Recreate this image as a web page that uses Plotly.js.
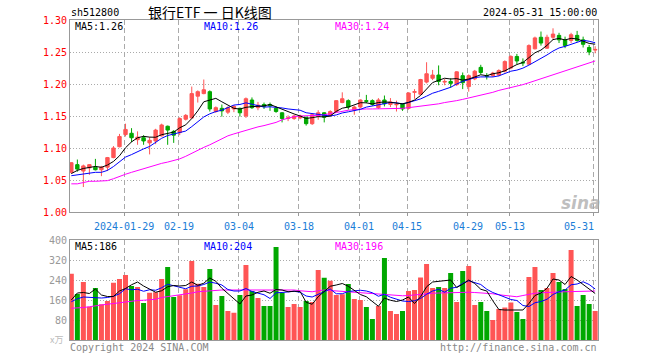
<!DOCTYPE html>
<html><head><meta charset="utf-8">
<script src="https://cdn.plot.ly/plotly-3.0.1.min.js"></script>
<style>html,body{margin:0;padding:0;background:#fff;}#chart{width:660px;height:360px;}</style>
</head><body><div id="chart"></div>
<script>
const dates = ['01-16','01-17','01-18','01-19','01-22','01-23','01-24','01-25','01-26','01-29','01-30','01-31','02-01','02-02','02-05','02-06','02-07','02-08','02-19','02-20','02-21','02-22','02-23','02-26','02-27','02-28','02-29','03-01','03-04','03-05','03-06','03-07','03-08','03-11','03-12','03-13','03-14','03-15','03-18','03-19','03-20','03-21','03-22','03-25','03-26','03-27','03-28','03-29','04-01','04-02','04-03','04-08','04-09','04-10','04-11','04-12','04-15','04-16','04-17','04-18','04-19','04-22','04-23','04-24','04-25','04-26','04-29','04-30','05-06','05-07','05-08','05-09','05-10','05-13','05-14','05-15','05-16','05-17','05-20','05-21','05-22','05-23','05-24','05-27','05-28','05-29','05-30','05-31'];
const open = [1.062,1.074,1.064,1.069,1.070,1.066,1.070,1.085,1.102,1.121,1.123,1.113,1.116,1.108,1.111,1.119,1.134,1.126,1.124,1.145,1.147,1.181,1.185,1.188,1.157,1.162,1.156,1.161,1.162,1.150,1.175,1.163,1.168,1.168,1.162,1.155,1.146,1.146,1.147,1.148,1.138,1.150,1.155,1.151,1.157,1.171,1.174,1.159,1.164,1.174,1.174,1.163,1.175,1.168,1.1675,1.169,1.162,1.187,1.184,1.203,1.209,1.214,1.203,1.204,1.199,1.213,1.196,1.208,1.226,1.213,1.213,1.214,1.220,1.225,1.243,1.234,1.231,1.255,1.273,1.256,1.273,1.276,1.269,1.268,1.276,1.269,1.257,1.253];
const high = [1.078,1.082,1.074,1.075,1.083,1.072,1.086,1.103,1.122,1.138,1.131,1.126,1.120,1.117,1.130,1.138,1.135,1.128,1.148,1.153,1.196,1.190,1.207,1.190,1.165,1.168,1.165,1.167,1.163,1.179,1.179,1.172,1.171,1.171,1.165,1.156,1.151,1.152,1.152,1.149,1.153,1.159,1.156,1.159,1.175,1.187,1.176,1.166,1.176,1.183,1.176,1.178,1.182,1.178,1.174,1.170,1.187,1.192,1.208,1.234,1.222,1.229,1.208,1.209,1.220,1.218,1.215,1.222,1.230,1.217,1.219,1.223,1.237,1.245,1.247,1.240,1.262,1.274,1.282,1.277,1.287,1.280,1.274,1.280,1.283,1.274,1.261,1.259];
const low = [1.060,1.063,1.039,1.058,1.065,1.056,1.064,1.084,1.101,1.118,1.109,1.105,1.105,1.090,1.106,1.118,1.105,1.108,1.120,1.143,1.146,1.171,1.184,1.157,1.155,1.149,1.153,1.156,1.149,1.147,1.161,1.159,1.161,1.158,1.155,1.140,1.142,1.144,1.145,1.135,1.136,1.144,1.140,1.149,1.155,1.170,1.160,1.152,1.162,1.170,1.166,1.161,1.165,1.164,1.157,1.158,1.160,1.177,1.183,1.201,1.206,1.198,1.198,1.194,1.197,1.192,1.188,1.206,1.215,1.207,1.211,1.212,1.218,1.223,1.231,1.228,1.230,1.254,1.260,1.255,1.269,1.264,1.256,1.264,1.266,1.257,1.245,1.248];
const close = [1.077,1.067,1.072,1.074,1.066,1.070,1.085,1.100,1.118,1.129,1.116,1.117,1.111,1.112,1.128,1.136,1.128,1.120,1.146,1.151,1.185,1.188,1.191,1.161,1.163,1.158,1.163,1.165,1.155,1.177,1.163,1.167,1.165,1.166,1.157,1.146,1.147,1.150,1.150,1.138,1.152,1.155,1.148,1.157,1.174,1.177,1.164,1.164,1.175,1.173,1.168,1.175,1.169,1.172,1.168,1.161,1.186,1.188,1.207,1.216,1.214,1.204,1.204,1.201,1.219,1.202,1.213,1.220,1.218,1.212,1.217,1.221,1.235,1.243,1.236,1.233,1.260,1.272,1.264,1.273,1.278,1.269,1.260,1.277,1.268,1.262,1.250,1.254];
const ma5 = [1.060,1.065,1.068,1.070,1.0712,1.0698,1.0734,1.079,1.0878,1.1004,1.1096,1.116,1.1182,1.117,1.1168,1.1208,1.123,1.1248,1.1316,1.1362,1.146,1.158,1.1722,1.1752,1.1776,1.1722,1.1672,1.162,1.1608,1.1636,1.1646,1.1652,1.1658,1.168,1.164,1.1606,1.1568,1.1532,1.15,1.1462,1.1474,1.149,1.1486,1.15,1.1572,1.1622,1.164,1.1672,1.1708,1.1706,1.1688,1.171,1.172,1.1714,1.1704,1.169,1.1712,1.175,1.182,1.1916,1.2022,1.2058,1.209,1.2078,1.2084,1.206,1.2078,1.211,1.2144,1.213,1.216,1.2176,1.2206,1.2256,1.2304,1.2336,1.2414,1.2488,1.253,1.2604,1.2694,1.2712,1.2688,1.2714,1.2704,1.2672,1.2634,1.2622];
const ma10 = [1.0567,1.058,1.059,1.0605,1.062,1.062,1.065,1.071,1.078,1.0858,1.0897,1.0947,1.0986,1.1024,1.1086,1.1152,1.1195,1.1215,1.1243,1.1265,1.1334,1.1405,1.1485,1.1534,1.1569,1.1591,1.1626,1.1671,1.168,1.1706,1.1684,1.1662,1.1639,1.1644,1.1638,1.1626,1.161,1.1595,1.159,1.1551,1.154,1.1529,1.1509,1.15,1.1517,1.1548,1.1565,1.1579,1.1604,1.1639,1.1655,1.1675,1.1696,1.1711,1.1705,1.1689,1.1711,1.1735,1.1767,1.181,1.1856,1.1885,1.192,1.1949,1.2,1.2041,1.2068,1.21,1.2111,1.2107,1.211,1.2127,1.2158,1.22,1.2217,1.2248,1.2295,1.2347,1.2393,1.2454,1.2515,1.2563,1.2588,1.2622,1.2654,1.2683,1.2668,1.2645];
const ma30 = [1.044,1.044,1.046,1.048,1.048,1.048,1.049,1.052,1.056,1.059,1.062,1.065,1.068,1.071,1.074,1.076,1.078,1.080,1.083,1.087,1.092,1.096,1.101,1.105,1.110,1.115,1.119,1.122,1.125,1.128,1.131,1.133,1.135,1.137,1.140,1.144,1.147,1.149,1.150,1.150,1.151,1.151,1.152,1.154,1.156,1.158,1.159,1.160,1.161,1.161,1.161,1.161,1.161,1.161,1.162,1.162,1.163,1.164,1.166,1.167,1.168,1.169,1.171,1.172,1.174,1.176,1.178,1.180,1.182,1.184,1.187,1.190,1.192,1.194,1.196,1.199,1.202,1.205,1.208,1.211,1.214,1.217,1.220,1.223,1.226,1.229,1.232,1.236];
const volume = [265,184,232,133,208,143,156,229,244,260,216,212,148,189,191,244,292,172,179,203,316,225,212,284,140,176,116,109,180,300,196,168,136,136,372,189,132,144,132,156,152,280,249,237,180,183,224,164,160,132,84,136,328,116,104,116,196,200,250,304,208,212,208,268,152,276,296,140,152,116,80,124,130,150,112,84,252,292,200,208,268,232,204,360,136,180,144,116];
const volMa5 = [160,188,190,186,204,180,174,174,196,206,221,232,216,205,191,197,213,218,216,218,232,219,227,248,235,207,186,165,144,176,180,191,196,187,202,200,193,195,194,151,143,173,194,215,220,226,215,198,182,173,153,135,168,159,154,160,172,146,173,213,232,235,236,240,210,223,240,226,203,196,157,122,120,120,119,120,146,178,188,207,244,240,222,254,240,222,205,186];
const volMa10 = [153,165,172,170,167,168,170,175,185,205,201,203,195,201,199,209,223,217,210,205,215,216,222,232,227,220,202,196,196,206,194,188,181,166,189,190,192,195,191,176,172,183,194,204,185,185,194,196,199,196,189,175,183,171,163,156,154,157,166,183,196,203,191,207,211,227,237,231,222,203,190,181,173,162,158,138,134,149,154,163,182,193,200,221,224,233,222,204];
const volMa30 = [127,128,130,133,138,140,143,146,149,153,157,158,159,160,163,170,173,176,179,183,188,193,195,197,200,200,200,200,201,203,203,203,203,203,203,203,202,200,197,195,193,197,200,198,196,195,193,191,189,187,185,182,180,179,178,177,178,181,183,185,187,188,189,191,191,191,191,190,189,187,185,181,178,176,173,178,183,187,189,191,191,192,193,194,196,197,197,196];
const tickDates = ['01-29','02-19','03-04','03-18','04-01','04-15','04-29','05-13','05-31'];
const tickLabels = ['2024-01-29','02-19','03-04','03-18','04-01','04-15','04-29','05-13','05-31'];
const priceTicks = [1.00,1.05,1.10,1.15,1.20,1.25,1.30];
const volTicks = [80,160,240,320,400];

const RED = '#ff5555', GREEN = '#00a800', GRID = '#aaaaaa', AXIS = '#999999';
const MONO = 'DejaVu Sans Mono';
const idx = dates.map((d, i) => i);
const last = dates.length - 1;
const tickPos = tickDates.map(d => dates.indexOf(d) - 0.2);
const xRange = [-0.22, last + 0.47];

const traces = [
  {type:'candlestick', x:idx, open:open, high:high, low:low, close:close, xaxis:'x', yaxis:'y',
   increasing:{line:{color:RED,width:1}, fillcolor:RED}, decreasing:{line:{color:GREEN,width:1}, fillcolor:GREEN},
   whiskerwidth:0, hoverinfo:'skip'},
  {type:'scatter', mode:'lines', x:idx, y:ma30, line:{color:'#ff00ff',width:1}, xaxis:'x', yaxis:'y', hoverinfo:'skip'},
  {type:'scatter', mode:'lines', x:idx, y:ma10, line:{color:'#0000ff',width:1}, xaxis:'x', yaxis:'y', hoverinfo:'skip'},
  {type:'scatter', mode:'lines', x:idx, y:ma5, line:{color:'#000000',width:1}, xaxis:'x', yaxis:'y', hoverinfo:'skip'},
  {type:'bar', x:idx, y:volume, width:0.83, xaxis:'x2', yaxis:'y2', hoverinfo:'skip',
   marker:{color: idx.map(i => close[i] >= open[i] ? RED : GREEN), line:{width:0}}},
  {type:'scatter', mode:'lines', x:idx, y:volMa30, line:{color:'#ff00ff',width:1}, xaxis:'x2', yaxis:'y2', hoverinfo:'skip'},
  {type:'scatter', mode:'lines', x:idx, y:volMa10, line:{color:'#0000ff',width:1}, xaxis:'x2', yaxis:'y2', hoverinfo:'skip'},
  {type:'scatter', mode:'lines', x:idx, y:volMa5, line:{color:'#000000',width:1}, xaxis:'x2', yaxis:'y2', hoverinfo:'skip'}
];

// paper coordinate helpers (plot area: x 70..598, y 20..340)
const px = v => (v - 70) / 528;
const py = v => (340 - v) / 320;
function ann(text, x, y, color, anchor, size, family, extra) {
  return Object.assign({text:text, xref:'paper', yref:'paper', x:px(x), y:py(y), xanchor:anchor, yanchor:'middle',
    showarrow:false, borderpad:0, font:{family:family||MONO, size:size||10, color:color}}, extra||{});
}
const annotations = [
  ann('sh512800', 70, 13, '#000', 'left'),
  ann('银行ETF 一 日K线图', 210, 12, '#000', 'center', 14, 'Noto Sans CJK SC'),
  ann('2024-05-31 15:00:00', 598, 12, '#000', 'right'),
  ann('MA5:' + ma5[last].toFixed(2), 74, 27, '#000', 'left'),
  ann('MA10:' + ma10[last].toFixed(2), 203, 27, '#0000ff', 'left'),
  ann('MA30:' + ma30[last].toFixed(2), 334, 27, '#ff00ff', 'left'),
  ann('MA5:' + volMa5[last], 74, 246, '#000', 'left'),
  ann('MA10:' + volMa10[last], 203, 246, '#0000ff', 'left'),
  ann('MA30:' + volMa30[last], 334, 246, '#ff00ff', 'left'),
  ann('x万', 64, 339, '#bbbbbb', 'right', 9, 'Noto Sans CJK SC'),
  ann('Copyright 2024 SINA.COM', 69, 347, '#888888', 'left'),
  ann('http://finance.sina.com.cn', 598, 347, '#888888', 'right'),
  ann('sina', 581, 203, 'rgba(170,170,170,0.75)', 'center', 17, 'DejaVu Sans', {font:{family:'DejaVu Sans', size:17, color:'rgba(170,170,170,0.75)', style:'italic', weight:'bold'}})
];
// date labels under the price panel, placed on the x axis; the last one is right-aligned like the original
tickPos.forEach((p, k) => {
  const isLast = k === tickPos.length - 1;
  annotations.push({text:tickLabels[k], xref:'x', yref:'paper', x: isLast ? p + 0.1 : p, y:py(226),
    xanchor: isLast ? 'right' : 'center', yanchor:'middle', showarrow:false, borderpad:0,
    font:{family:MONO, size:10, color:'#1a7dd7'}});
});

const layout = {
  width:660, height:360, margin:{l:70, r:62, t:20, b:20, pad:0},
  paper_bgcolor:'#ffffff', plot_bgcolor:'#ffffff', showlegend:false, boxgap:0.2,
  font:{family:MONO, size:10, color:'#000'},
  xaxis:{domain:[0,1], anchor:'y', range:xRange, tickmode:'array', tickvals:tickPos, showticklabels:false,
    ticks:'outside', ticklen:3, tickcolor:AXIS,
    showgrid:true, gridcolor:GRID, griddash:'5px,3px', gridwidth:1, showline:true, linecolor:AXIS, linewidth:1, mirror:true,
    zeroline:false, rangeslider:{visible:false}, fixedrange:true},
  yaxis:{domain:[0.4,1], anchor:'x', range:[1.0,1.30], tickmode:'array', tickvals:priceTicks, ticktext:priceTicks.map(v => v.toFixed(2)),
    tickfont:{family:MONO, size:10, color:'#ff0000'}, ticks:'', showgrid:true, gridcolor:GRID, griddash:'1px,2px', gridwidth:1,
    showline:true, linecolor:AXIS, linewidth:1, mirror:true, zeroline:false, fixedrange:true},
  xaxis2:{domain:[0,1], anchor:'y2', range:xRange, tickmode:'array', tickvals:tickPos, showticklabels:false, ticks:'',
    showgrid:true, gridcolor:GRID, griddash:'5px,3px', gridwidth:1, showline:true, linecolor:AXIS, linewidth:1, mirror:true,
    zeroline:false, fixedrange:true},
  yaxis2:{domain:[0,0.3125], anchor:'x2', range:[0,400], tickmode:'array', tickvals:volTicks, ticktext:volTicks.map(String),
    tickfont:{family:MONO, size:10, color:'#999999'}, ticks:'', showgrid:true, gridcolor:GRID, griddash:'1px,2px', gridwidth:1,
    showline:true, linecolor:AXIS, linewidth:1, mirror:true, zeroline:false, fixedrange:true},
  annotations:annotations
};
Plotly.newPlot('chart', traces, layout, {staticPlot:true, displayModeBar:false});
</script></body></html>
